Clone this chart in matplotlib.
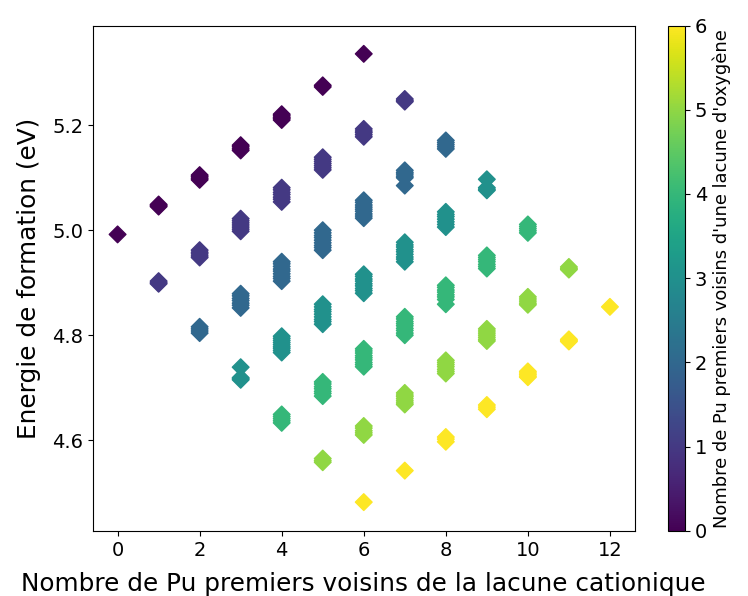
import matplotlib

matplotlib.use("Agg")
import matplotlib.pyplot as plt
import numpy as np

# Number of Pu first neighbours of the cation vacancy (x) and of the oxygen vacancy (colour)
nb_pu_cation = [0,
                1, 1,
                2, 2, 2,
                3, 3, 3, 3,
                4, 4, 4, 4, 4,
                5, 5, 5, 5, 5, 5,
                6, 6, 6, 6, 6, 6, 6,
                7, 7, 7, 7, 7, 7,
                8, 8, 8, 8, 8,
                9, 9, 9, 9,
                10, 10, 10,
                11, 11,
                12]
nb_pu_oxygen = [0,
                0, 1,
                0, 1, 2,
                0, 1, 2, 3,
                0, 1, 2, 3, 4,
                0, 1, 2, 3, 4, 5,
                0, 1, 2, 3, 4, 5, 6,
                1, 2, 3, 4, 5, 6,
                2, 3, 4, 5, 6,
                3, 4, 5, 6,
                4, 5, 6,
                5, 6,
                6]
# formation energies (eV) of the configurations in each group
energies = [
    # x = 0
    [4.992],
    # x = 1
    [5.049, 5.047, 5.045],
    [4.903, 4.900, 4.898],
    # x = 2
    [5.105, 5.102, 5.099, 5.096],
    [4.962, 4.958, 4.955, 4.951, 4.948],
    [4.816, 4.812, 4.808, 4.804],
    # x = 3
    [5.162, 5.159, 5.155, 5.152],
    [5.022, 5.018, 5.014, 5.010, 5.006, 5.002, 4.998],
    [4.879, 4.875, 4.870, 4.866, 4.861, 4.857, 4.852],
    [4.739, 4.719, 4.717, 4.715],
    # x = 4
    [5.221, 5.218, 5.215, 5.213, 5.210],
    [5.081, 5.077, 5.072, 5.068, 5.063, 5.059, 5.054],
    [4.940, 4.936, 4.931, 4.926, 4.922, 4.917, 4.912, 4.908, 4.903],
    [4.798, 4.794, 4.790, 4.786, 4.782, 4.778, 4.775, 4.771, 4.767],
    [4.649, 4.645, 4.641, 4.637, 4.633],
    # x = 5
    [5.276, 5.273],
    [5.139, 5.135, 5.131, 5.127, 5.123, 5.119, 5.115],
    [5.000, 4.995, 4.990, 4.986, 4.981, 4.976, 4.971, 4.967, 4.962],
    [4.859, 4.854, 4.849, 4.845, 4.840, 4.835, 4.830, 4.826, 4.821],
    [4.711, 4.707, 4.702, 4.698, 4.693, 4.689, 4.684],
    [4.565, 4.561, 4.558],
    # x = 6
    [5.336],
    [5.193, 5.189, 5.186, 5.182, 5.178],
    [5.057, 5.053, 5.048, 5.044, 5.040, 5.036, 5.031, 5.027, 5.023],
    [4.916, 4.912, 4.907, 4.903, 4.898, 4.894, 4.889, 4.885, 4.880],
    [4.774, 4.770, 4.766, 4.761, 4.757, 4.753, 4.748, 4.744, 4.740],
    [4.627, 4.623, 4.618, 4.614, 4.610],
    [4.482],
    # x = 7
    [5.250, 5.247, 5.245],
    [5.114, 5.110, 5.107, 5.103, 5.100, 5.085],
    [4.977, 4.972, 4.968, 4.963, 4.959, 4.954, 4.949, 4.945, 4.940],
    [4.835, 4.831, 4.826, 4.822, 4.818, 4.813, 4.809, 4.804, 4.800],
    [4.690, 4.686, 4.683, 4.679, 4.675, 4.671, 4.668],
    [4.542],
    # x = 8
    [5.171, 5.167, 5.163, 5.159, 5.155],
    [5.035, 5.030, 5.026, 5.021, 5.016, 5.011, 5.006],
    [4.895, 4.891, 4.886, 4.882, 4.877, 4.873, 4.868, 4.859],
    [4.752, 4.748, 4.744, 4.740, 4.735, 4.731, 4.727],
    [4.606, 4.602, 4.597],
    # x = 9
    [5.097, 5.081, 5.078, 5.076],
    [4.952, 4.948, 4.944, 4.940, 4.935, 4.931, 4.927],
    [4.812, 4.808, 4.804, 4.800, 4.796, 4.792, 4.789],
    [4.667, 4.663, 4.659],
    # x = 10
    [5.011, 5.007, 5.003, 4.999, 4.995],
    [4.873, 4.869, 4.865, 4.861, 4.858],
    [4.731, 4.728, 4.725, 4.722, 4.720],
    # x = 11
    [4.930, 4.927, 4.925],
    [4.792, 4.790, 4.788],
    # x = 12
    [4.854],
]

# flatten groups into points
xs, cs, ys = [], [], []
for x, c, group in zip(nb_pu_cation, nb_pu_oxygen, energies):
    for e in group:
        xs.append(x)
        cs.append(c)
        ys.append(e)

fig = plt.figure(figsize=(7.48, 5.96), dpi=100)
ax = fig.add_axes([0.1243, 0.1091, 0.7240, 0.8481])
cax = fig.add_axes([0.8930, 0.1091, 0.0227, 0.8481])

sc = ax.scatter(xs, ys, c=cs, cmap="viridis", vmin=0, vmax=6, marker="D", s=72)
ax.set_xlim(-0.6, 12.6)
ax.set_ylim(4.427, 5.39)
ax.set_xticks(np.arange(0, 13, 2))
ax.set_yticks([4.6, 4.8, 5.0, 5.2])
ax.tick_params(labelsize=14)
ax.set_xlabel("Nombre de Pu premiers voisins de la lacune cationique",
              fontsize=17.8, labelpad=9)
ax.set_ylabel("Energie de formation (eV)", fontsize=17.8, labelpad=8)

cb = fig.colorbar(sc, cax=cax)
cb.set_ticks(range(7))
cb.ax.tick_params(labelsize=14)
cb.set_label("Nombre de Pu premiers voisins d'une lacune d'oxygène", fontsize=12.9)

fig.savefig("out.png", dpi=100)
